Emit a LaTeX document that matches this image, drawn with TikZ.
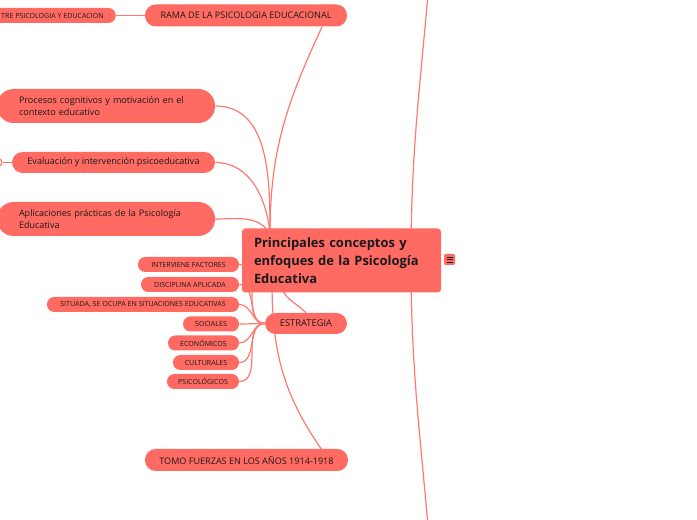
\documentclass[tikz,border=0pt]{standalone}
\usepackage{fontspec}
\setmainfont{Open Sans}
\usetikzlibrary{backgrounds,calc}
\definecolor{coral}{HTML}{FF6A62}
\definecolor{ink}{HTML}{1A1A1A}
\newcommand{\px}{0.75pt}

\begin{document}
\begin{tikzpicture}[x=0.75pt,y=-0.75pt]
	\tikzstyle{pill}=[fill=coral,text=ink,inner sep=0pt,align=center]
	\tikzstyle{central}=[fill=coral,text=ink,inner sep=0pt,rounded corners=2.5pt,minimum width=199*\px,minimum height=64*\px,text width=175*\px,align=left,font=\fontsize{9.7}{13.5}\selectfont\bfseries]
	\tikzstyle{idea}=[pill,minimum width=218*\px,minimum height=34*\px,text width=174*\px,align=left,rounded corners=12.5pt,font=\fontsize{6.8}{9.4}\selectfont]
	\tikzstyle{branch}=[pill,minimum height=22*\px,rounded corners=8pt,font=\fontsize{6.8}{8}\selectfont]
	\tikzstyle{leaf}=[pill,minimum height=15*\px,rounded corners=5.5pt,font=\fontsize{5.3}{6}\selectfont]
	\tikzstyle{fold}=[circle,draw=coral,fill=white,line width=1*\px,inner sep=0pt,minimum size=8*\px]
	\tikzstyle{menubox}=[fill=coral,rounded corners=1pt,inner sep=0pt,minimum size=11*\px]
	\tikzstyle{edge}=[draw=coral!90!white,line width=1.2*\px]
	\path[use as bounding box] (0,0) rectangle (697,520);
	\begin{scope}
		% main topic
		\node [central] (main) at (341.5,260.5) {Principales conceptos y\\enfoques de la Psicología\\Educativa};
		\node [menubox] (menu) at (449.5,259.5) {};
		\foreach \dy in {-2.5,0,2.5}
			\draw [ink,line width=0.7*\px] ($(menu.center)+(-3,\dy)$) -- ($(menu.center)+(3,\dy)$);
		% upper left
		\node [branch,minimum width=202*\px] (rama) at (246,15.5) {RAMA DE LA PSICOLOGIA EDUCACIONAL};
		\node [leaf,anchor=east,inner xsep=12*\px] (relacion) at (116,15.5) {TRE PSICOLOGIA Y EDUCACION};
		\node [idea] (procesos) at (106,106) {Procesos cognitivos y motivación en el\\contexto educativo};
		\node [branch,minimum width=203*\px,minimum height=21*\px] (evaluacion) at (113.5,162.5) {Evaluación y intervención psicoeducativa};
		\node [fold] (evalfold) at (-2,162.5) {};
		\node [idea] (aplicaciones) at (106,219) {Aplicaciones prácticas de la Psicología\\Educativa};
		% lower left
		\node [branch,minimum width=82*\px,minimum height=21*\px,font=\fontsize{7}{8}\selectfont] (estrategia) at (306,323.5) {ESTRATEGIA};
		\node [leaf,minimum width=101*\px] (interviene) at (188.5,264.5) {INTERVIENE FACTORES};
		\node [leaf,minimum width=98*\px] (disciplina) at (190,284.5) {DISCIPLINA APLICADA};
		\node [leaf,minimum width=192*\px] (situada) at (143,304.5) {SITUADA, SE OCUPA EN SITUACIONES EDUCATIVAS};
		\node [leaf,minimum width=56*\px] (sociales) at (211,324) {SOCIALES};
		\node [leaf,minimum width=71*\px] (economicos) at (203.5,343) {ECONÓMICOS};
		\node [leaf,minimum width=66*\px] (culturales) at (206,362.5) {CULTURALES};
		\node [leaf,minimum width=72*\px] (psicologicos) at (203,381.5) {PSICOLÓGICOS};
		\node [branch,minimum width=203*\px] (tomo) at (246.5,460) {TOMO FUERZAS EN LOS AÑOS 1914-1918};
		% anchors of the connectors
		\coordinate (hubup) at (270,234);
		\coordinate (hubdown) at (281,282);
		\coordinate (hubtomo) at (272,282);
		\coordinate (hubright) at (411,260);
		\coordinate (ramafoot) at (322,27);
		\coordinate (tomofoot) at (322,450);
		\coordinate (offtop) at (428,-6);
		\coordinate (offbottom) at (428,526);
	\end{scope}
	\begin{scope}[on background layer]
		\path[edge] (hubup) edge [out=90,in=-115] (ramafoot);
		\path[edge] (hubup) edge [out=90,in=0] (procesos.east);
		\path[edge] (hubup) edge [out=95,in=0] (evaluacion.east);
		\path[edge] (hubup) edge [out=120,in=0] (aplicaciones.east);
		\path[edge] (rama.west) -- (relacion.east);
		\path[edge] (evaluacion.west) -- (evalfold.east);
		\path[edge] (hubright) edge [out=90,in=-95] (offtop);
		\path[edge] (hubright) edge [out=-90,in=95] (offbottom);
		\path[edge] (hubdown) edge [out=-90,in=135] (estrategia.north);
		\path[edge] (hubtomo) edge [out=-90,in=125] (tomofoot);
		\foreach \leaf in {interviene,disciplina,situada,sociales,economicos,culturales,psicologicos}
			\path[edge] (estrategia.west) edge [out=180,in=0] (\leaf.east);
	\end{scope}
\end{tikzpicture}
\end{document}
